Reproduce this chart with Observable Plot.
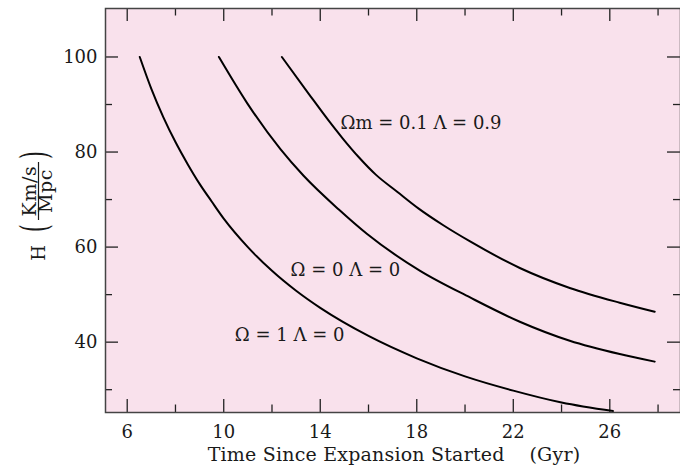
<!DOCTYPE html>
<html><head><meta charset="utf-8">
<script src="https://cdn.jsdelivr.net/npm/d3@7"></script>
<script src="https://cdn.jsdelivr.net/npm/@observablehq/plot@0.6"></script>
<style>body{margin:0;background:#fff}</style>
</head><body><div id="chart"></div>
<script>
// Ω = 1, Λ = 0
const tFlatMatter = [6.52, 7.0, 7.5, 8.0, 8.5, 9.0, 9.5, 10, 11, 12, 13, 14, 16, 18, 20, 22, 24, 26.13];
const hFlatMatter = [100, 93.3, 87.3, 82.1, 77.5, 73.3, 69.6, 66.0, 60.0, 55.0, 50.8, 47.2, 41.3, 36.6, 32.8, 29.8, 27.3, 25.5];
// Ω = 0, Λ = 0
const tEmpty = [9.80, 10.97, 12.35, 13.31, 14.77, 15.93, 18.14, 20.21, 22.27, 24.34, 26.41, 27.86];
const hEmpty = [100, 90.3, 80.6, 75.0, 67.9, 62.8, 55.0, 49.4, 44.3, 40.3, 37.5, 35.9];
// Ωm = 0.1, Λ = 0.9
const tLambda = [12.41, 13.53, 14.35, 14.91, 15.6, 16.29, 17.2, 18.08, 19.1, 20.21, 22.27, 24.34, 26.41, 27.86];
const hLambda = [100, 92.2, 86.6, 83.0, 78.9, 75.3, 71.6, 68.1, 64.6, 61.2, 55.6, 51.4, 48.3, 46.4];

const modelNames = ["Ω = 1 Λ = 0", "Ω = 0 Λ = 0", "Ωm = 0.1 Λ = 0.9"];
const labelT = [10.46, 12.77, 14.84];
const labelH = [41.5, 55.2, 86.0];

const xMajor = [6, 10, 14, 18, 22, 26];
const xMinor = [8, 12, 16, 20, 24, 28];
const yMajor = [40, 60, 80, 100];
const yMinor = [30, 50, 70, 90];
const xLabel = "Time Since Expansion Started\u00a0\u00a0\u00a0\u00a0(Gyr)";

const seriesT = [tFlatMatter, tEmpty, tLambda];
const seriesH = [hFlatMatter, hEmpty, hLambda];
const rows = seriesT.flatMap((ts, k) => ts.map((t, i) => ({model: modelNames[k], t, h: seriesH[k][i]})));
const labels = modelNames.map((name, i) => ({name, t: labelT[i], h: labelH[i]}));

const W = 680, H = 465, mt = 8, mb = 53, ml = 105, mr = 0;
const ih = H - mt - mb, iw = W - ml - mr;
const font = "DejaVu Serif";
const fs = 18;
const ink = "#1a1a1a";
const tickColor = "#222";

const chart = Plot.plot({
  width: W, height: H,
  marginLeft: ml, marginRight: mr, marginTop: mt, marginBottom: mb,
  style: {fontFamily: font, fontSize: fs + "px", color: ink, background: "#fff", overflow: "visible"},
  x: {domain: [5.1, 28.93]},
  y: {domain: [25.2, 110.2]},
  marks: [
    Plot.frame({fill: "#f9e1ec", stroke: null}),
    Plot.tickX(xMajor, {x: d => d, insetTop: ih - 13, stroke: tickColor, strokeWidth: 1.3}),
    Plot.tickX(xMajor, {x: d => d, insetBottom: ih - 13, stroke: tickColor, strokeWidth: 1.3}),
    Plot.tickX(xMinor, {x: d => d, insetTop: ih - 7.5, stroke: tickColor, strokeWidth: 1.3}),
    Plot.tickX(xMinor, {x: d => d, insetBottom: ih - 7.5, stroke: tickColor, strokeWidth: 1.3}),
    Plot.tickY(yMajor, {y: d => d, insetRight: iw - 13, stroke: tickColor, strokeWidth: 1.3}),
    Plot.tickY(yMajor, {y: d => d, insetLeft: iw - 13, stroke: tickColor, strokeWidth: 1.3}),
    Plot.tickY(yMinor, {y: d => d, insetRight: iw - 7, stroke: tickColor, strokeWidth: 1.3}),
    Plot.tickY(yMinor, {y: d => d, insetLeft: iw - 7, stroke: tickColor, strokeWidth: 1.3}),
    Plot.line(rows, {x: "t", y: "h", z: "model", stroke: "#000", strokeWidth: 2, curve: "monotone-x"}),
    Plot.text(labels, {x: "t", y: "h", text: "name", textAnchor: "start", lineAnchor: "middle", fill: ink}),
    Plot.axisX({ticks: xMajor, tickSize: 0, tickPadding: 12.5, label: null, fill: ink}),
    Plot.axisY({ticks: yMajor, tickSize: 0, tickPadding: 8, label: null, fill: ink}),
    Plot.text([xLabel], {text: d => d, frameAnchor: "bottom", dx: 1, dy: 48 - 0.32 * 19, lineAnchor: "middle", fontSize: 19, fill: ink}),
    Plot.frame({stroke: "#444", strokeWidth: 1.5})
  ]
});

// rotated y-axis label: H (Km/s / Mpc)
const svg = d3.select(chart);
svg.selectAll("text").filter(function(){ return this.textContent === xLabel; }).attr("letter-spacing", "0.2px");
const g = svg.append("g").attr("font-family", font).attr("fill", ink).attr("font-size", fs);
g.append("text").attr("transform", "translate(45,253) rotate(-90)").attr("text-anchor", "middle").text("H");
g.append("text").attr("transform", "translate(35.5,191) rotate(-90)").attr("text-anchor", "middle").attr("font-size", 19).attr("letter-spacing", "0.6px").text("Km/s");
g.append("text").attr("transform", "translate(51.5,191) rotate(-90)").attr("text-anchor", "middle").attr("font-size", 19).attr("letter-spacing", "0.6px").text("Mpc");
g.append("line").attr("x1", 38.5).attr("x2", 38.5).attr("y1", 162).attr("y2", 220).attr("stroke", ink).attr("stroke-width", 1.2);
g.append("text").attr("transform", "translate(34,228) rotate(-90) scale(1,1.9)").attr("text-anchor", "middle").attr("dominant-baseline", "central").attr("font-size", 20).text("(");
g.append("text").attr("transform", "translate(34,155) rotate(-90) scale(1,1.9)").attr("text-anchor", "middle").attr("dominant-baseline", "central").attr("font-size", 20).text(")");

document.getElementById("chart").appendChild(chart);
</script>
</body></html>
